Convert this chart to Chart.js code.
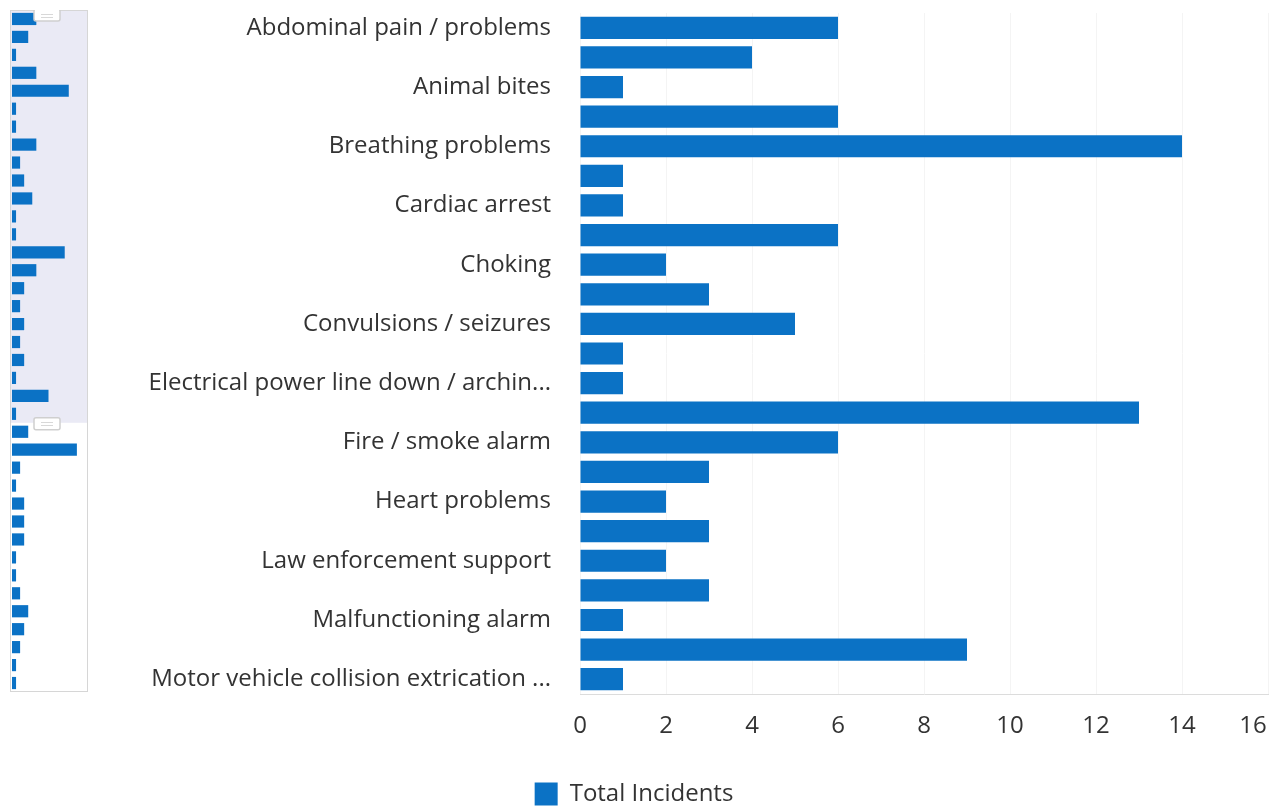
<!DOCTYPE html>
<html>
<head>
<meta charset="utf-8">
<script src="https://cdn.jsdelivr.net/npm/chart.js@4"></script>
<style>
  body { margin: 0; background: #fff; }
  #wrap { position: relative; width: 1281px; height: 806px; }
  #mainChart { position: absolute; left: 0; top: 0; }
  #navChart { position: absolute; left: 10px; top: 10px; }
</style>
</head>
<body>
<div id="wrap">
  <canvas id="mainChart" width="1281" height="806"></canvas>
  <canvas id="navChart" width="78" height="682"></canvas>
</div>
<script>
// every other category name is shown on the axis, the rest are hidden
const categories = [
    'Abdominal pain / problems', '', 'Animal bites', '', 'Breathing problems', '',
    'Cardiac arrest', '', 'Choking', '', 'Convulsions / seizures', '',
    'Electrical power line down / archin...', '', 'Fire / smoke alarm', '',
    'Heart problems', '', 'Law enforcement support', '', 'Malfunctioning alarm', '',
    'Motor vehicle collision extrication ...',
    '', '', '', '', '', '', '', '', '', '', '', '', '', '', ''
];
const totalIncidents = [
    6, 4, 1, 6, 14, 1, 1, 6, 2, 3, 5, 1, 1, 13, 6, 3, 2, 3, 2, 3, 1, 9, 1,
    4, 16, 2, 1, 3, 3, 3, 1, 1, 2, 4, 3, 2, 1, 1
];
const xTicks = [0, 2, 4, 6, 8, 10, 12, 14, 16];

// visible window (index range shown in the main chart)
const viewStart = 0;
const viewEnd = 22;

const barColor = '#0b72c5';
const textColor = '#333333';

Chart.defaults.font.family = "'Open Sans', sans-serif";

const mainCtx = document.getElementById('mainChart').getContext('2d');
new Chart(mainCtx, {
    type: 'bar',
    data: {
        labels: categories.slice(viewStart, viewEnd + 1),
        datasets: [{
            label: 'Total Incidents',
            data: totalIncidents.slice(viewStart, viewEnd + 1),
            backgroundColor: barColor,
            categoryPercentage: 1,
            barPercentage: 0.75
        }]
    },
    options: {
        indexAxis: 'y',
        responsive: false,
        animation: false,
        layout: { padding: { top: 13, right: 13, bottom: -10, left: 0 } },
        scales: {
            x: {
                min: xTicks[0],
                max: xTicks[xTicks.length - 1],
                afterBuildTicks: (scale) => {
                    scale.ticks = xTicks.map(v => ({ value: v }));
                },
                afterFit: (scale) => {
                    scale.height = 82;
                    scale.paddingRight = 0;
                },
                grid: { color: '#f4f4f4', drawTicks: false },
                border: { display: true, color: '#dcdcdc' },
                ticks: {
                    color: textColor,
                    padding: 18,
                    font: { size: 24 },
                    // last label is kept inside the plot edge
                    callback: (value) => value === xTicks[xTicks.length - 1]
                        ? value + '\u2002\u2002 ' : value
                }
            },
            y: {
                afterFit: (scale) => {
                    scale.width = 580;
                    scale.paddingTop = 0;
                    scale.paddingBottom = 0;
                },
                grid: { display: false, drawTicks: false },
                border: { display: false },
                ticks: {
                    autoSkip: false,
                    color: textColor,
                    padding: 29,
                    font: { size: 24 }
                }
            }
        },
        plugins: {
            legend: {
                position: 'bottom',
                labels: {
                    color: textColor,
                    font: { size: 24 },
                    boxWidth: 23,
                    boxHeight: 23,
                    padding: 6
                }
            },
            tooltip: { enabled: false }
        }
    }
});

// navigator: light selection mask, outline and two grip handles
const navigatorPlugin = {
    id: 'navigatorMask',
    beforeDatasetsDraw(chart) {
        const { ctx, scales } = chart;
        const half = (scales.y.getPixelForValue(1) - scales.y.getPixelForValue(0)) / 2;
        const top = scales.y.getPixelForValue(viewStart) - half;
        const bottom = scales.y.getPixelForValue(viewEnd) + half;
        ctx.save();
        ctx.fillStyle = '#eaeaf5';
        ctx.fillRect(0, top, chart.width, bottom - top);
        ctx.strokeStyle = '#d6d6d6';
        ctx.lineWidth = 1;
        ctx.strokeRect(0.5, 0.5, chart.width - 1, chart.height - 1);
        ctx.restore();
    },
    afterDatasetsDraw(chart) {
        const { ctx, scales } = chart;
        const half = (scales.y.getPixelForValue(1) - scales.y.getPixelForValue(0)) / 2;
        const edges = [
            scales.y.getPixelForValue(viewStart) - half + 5,
            scales.y.getPixelForValue(viewEnd) + half + 1
        ];
        ctx.save();
        edges.forEach(y => {
            const x = 24, w = 26, h = 12;
            ctx.fillStyle = '#ffffff';
            ctx.strokeStyle = '#cfcfcf';
            ctx.lineWidth = 1.5;
            ctx.beginPath();
            ctx.roundRect(x, y - h / 2, w, h, 2);
            ctx.fill();
            ctx.stroke();
            ctx.strokeStyle = '#d8d8d8';
            ctx.lineWidth = 1;
            for (let i = -1; i <= 1; i += 2) {
                ctx.beginPath();
                ctx.moveTo(x + 7, Math.round(y + i * 1.5) + 0.5);
                ctx.lineTo(x + w - 7, Math.round(y + i * 1.5) + 0.5);
                ctx.stroke();
            }
        });
        ctx.restore();
    }
};

const navCtx = document.getElementById('navChart').getContext('2d');
new Chart(navCtx, {
    type: 'bar',
    data: {
        labels: categories,
        datasets: [{
            data: totalIncidents,
            backgroundColor: barColor,
            categoryPercentage: 1,
            barPercentage: 0.68
        }]
    },
    options: {
        indexAxis: 'y',
        responsive: false,
        animation: false,
        layout: { padding: { left: 2, right: 3, top: 0, bottom: 0 } },
        scales: {
            x: { display: false, min: 0, max: 18 },
            y: { display: false }
        },
        plugins: {
            legend: { display: false },
            tooltip: { enabled: false }
        }
    },
    plugins: [navigatorPlugin]
});
</script>
</body>
</html>
